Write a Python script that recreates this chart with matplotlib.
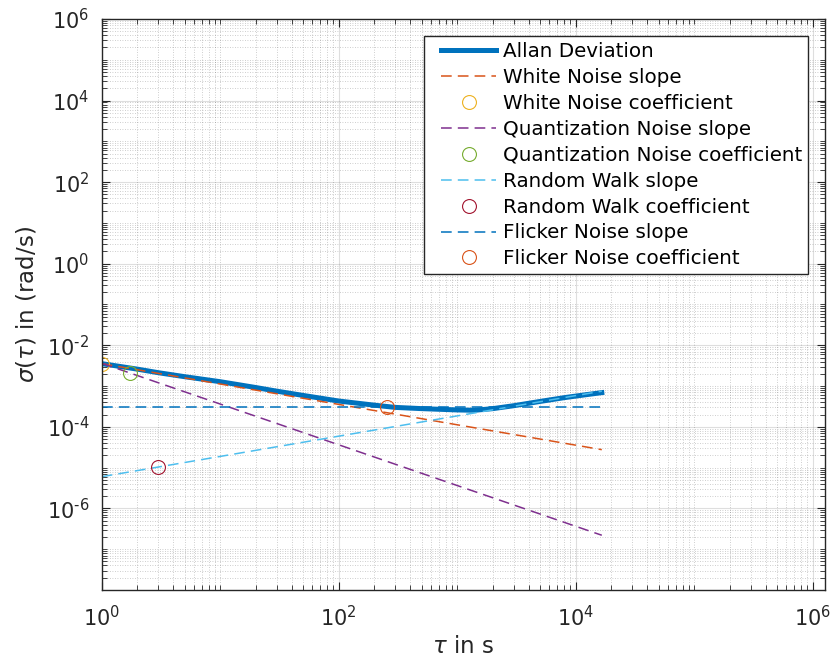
import matplotlib
matplotlib.use('Agg')
import matplotlib.pyplot as plt
from matplotlib.lines import Line2D
from matplotlib.legend_handler import HandlerLine2D
from matplotlib.ticker import LogLocator, NullFormatter, FuncFormatter
import numpy as np

# Allan deviation curve
tau = [1, 2, 3, 5, 10, 20, 30, 50, 100, 200, 300, 500, 700, 1000, 1400,
       2000, 3000, 5000, 8000, 12000, 16600]
adev = [3.55e-3, 2.6e-3, 2.13e-3, 1.7e-3, 1.28e-3, 9.2e-4, 7.5e-4, 5.9e-4,
        4.3e-4, 3.4e-4, 3.0e-4, 2.8e-4, 2.7e-4, 2.6e-4, 2.55e-4, 2.8e-4,
        3.3e-4, 4.2e-4, 5.2e-4, 6.1e-4, 6.9e-4]

# slope lines (straight in log-log, so two end points each)
tau_slope = [1, 16600]
white_slope = [3.55e-3, 2.76e-5]
quant_slope = [3.62e-3, 2.2e-7]
rw_slope = [6.0e-6, 7.5e-4]
flicker_slope = [3.15e-4, 3.15e-4]

# noise coefficients (tau, value)
white_coef = (1.0, 3.55e-3)
quant_coef = (1.73, 2.09e-3)
rw_coef = (3.0, 1.04e-5)
flicker_coef = (254.0, 3.15e-4)

labels = ['Allan Deviation', 'White Noise slope', 'White Noise coefficient',
          'Quantization Noise slope', 'Quantization Noise coefficient',
          'Random Walk slope', 'Random Walk coefficient',
          'Flicker Noise slope', 'Flicker Noise coefficient']

# MATLAB default colour order
c_blue, c_orange, c_yellow = '#0072BD', '#D95319', '#EDB120'
c_purple, c_green, c_cyan, c_red = '#7E2F8E', '#77AC30', '#4DBEEE', '#A2142F'

plt.rcParams['font.family'] = ['DejaVu Sans']
plt.rcParams['mathtext.fontset'] = 'dejavusans'


def pow10(v, pos):
    # MATLAB style label with a short hyphen in the exponent
    e = int(round(np.log10(v)))
    s = str(e).replace('-', '\u2010')
    return r'$10^{%s}$' % s


fig = plt.figure(figsize=(8.37, 6.66), dpi=100)
ax = fig.add_axes([0.1215, 0.1141, 0.8642, 0.8574])

dash = (0, (7, 4))
mk = dict(mfc='none', ms=10, mew=0.8)
ax.plot(tau, adev, color=c_blue, lw=3.6, label=labels[0])
ax.plot(tau_slope, white_slope, color=c_orange, lw=1.1, ls=dash, label=labels[1])
ax.plot(*white_coef, 'o', mec=c_yellow, label=labels[2], **mk)
ax.plot(tau_slope, quant_slope, color=c_purple, lw=1.1, ls=dash, label=labels[3])
ax.plot(*quant_coef, 'o', mec=c_green, label=labels[4], **mk)
ax.plot(tau_slope, rw_slope, color=c_cyan, lw=1.1, ls=dash, label=labels[5])
ax.plot(*rw_coef, 'o', mec=c_red, label=labels[6], **mk)
ax.plot(tau_slope, flicker_slope, color=c_blue, lw=1.1, ls=dash, label=labels[7])
ax.plot(*flicker_coef, 'o', mec=c_orange, label=labels[8], **mk)

ax.set_xscale('log')
ax.set_yscale('log')
ax.set_xlim(1, 1.27e6)
ax.set_ylim(1e-8, 1e6)

ax.set_xticks([1, 1e2, 1e4, 1e6])
ax.set_yticks([1e-6, 1e-4, 1e-2, 1, 1e2, 1e4, 1e6])
for axis in (ax.xaxis, ax.yaxis):
    axis.set_major_formatter(FuncFormatter(pow10))
    axis.set_minor_locator(LogLocator(base=10, subs=range(1, 10), numticks=100))
    axis.set_minor_formatter(NullFormatter())

ax.grid(True, which='major', color='#262626', alpha=0.15, lw=0.8, ls='-')
ax.grid(True, which='minor', color='#262626', alpha=0.3, lw=0.6, ls=(0, (1, 2)))
ax.set_axisbelow(True)

ax.tick_params(which='both', direction='in', top=True, right=True,
               colors='#262626', labelsize=15)
ax.tick_params(axis='x', which='both', pad=11)
ax.tick_params(axis='y', which='both', pad=9)
ax.tick_params(which='major', length=6, width=0.8)
ax.tick_params(which='minor', length=3.5, width=0.6)
for sp in ax.spines.values():
    sp.set_color('#262626')
    sp.set_linewidth(1)

ax.set_xlabel(r'$\tau$ in s', fontsize=16.5, color='#262626', labelpad=3)
ax.set_ylabel(r'$\sigma(\tau)$ in (rad/s)', fontsize=16.5, color='#262626', labelpad=6)

leg = ax.legend(loc='upper right', fontsize=14.3, frameon=True, fancybox=False,
                framealpha=1, edgecolor='#262626', borderpad=0.3,
                borderaxespad=0.85, labelspacing=0.35, handlelength=3.3,
                handletextpad=0.35,
                handler_map={Line2D: HandlerLine2D(xpad=0.55)})
leg.get_frame().set_linewidth(1)

fig.savefig('out.png', dpi=100)
